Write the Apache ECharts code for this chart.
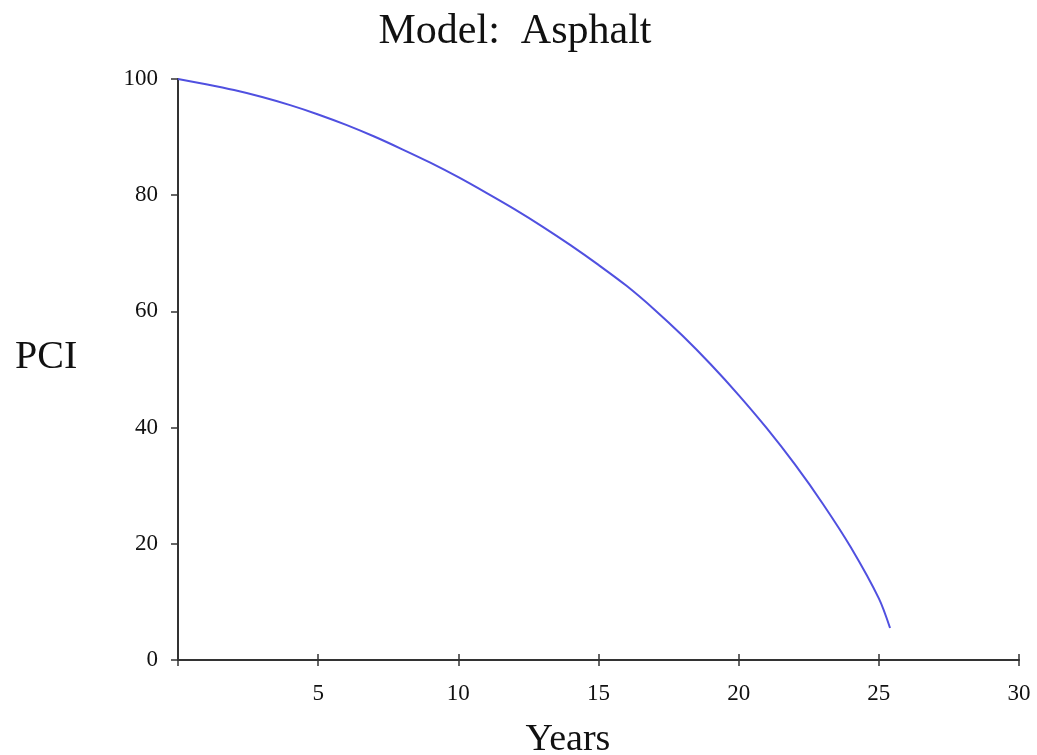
<!DOCTYPE html>
<html>
<head>
<meta charset="utf-8">
<script src="https://cdn.jsdelivr.net/npm/echarts@6/dist/echarts.min.js"></script>
<style>
  html, body { margin: 0; padding: 0; background: #fff; }
  #chart { width: 1037px; height: 755px; }
</style>
</head>
<body>
<div id="chart"></div>
<script>
// values
const years = [0, 1, 2, 3, 4, 5, 6, 7, 8, 9, 10, 11, 12, 13, 14, 15, 16, 17, 18, 19, 20, 21, 22, 23, 24, 25, 25.4];
const pci = [100, 99.1, 98.1, 96.9, 95.5, 93.9, 92.1, 90.1, 87.9, 85.6, 83.1, 80.4, 77.6, 74.6, 71.4, 68.0, 64.4, 60.3, 55.8, 50.9, 45.6, 39.9, 33.7, 26.9, 19.4, 10.6, 5.5];
const xTicks = [0, 5, 10, 15, 20, 25, 30];
const yTicks = [0, 20, 40, 60, 80, 100];

const serif = "'Liberation Serif', 'DejaVu Serif', serif";
let myChart = echarts.init(document.getElementById("chart"));
let option = {
  animation: false,
  backgroundColor: "#fff",
  title: [
    { text: "Model:  Asphalt", left: 510, top: 6, textAlign: "center",
      textStyle: { fontFamily: serif, fontSize: 42, fontWeight: "normal", color: "#111" } },
    { text: "PCI", left: 10, top: 332,
      textStyle: { fontFamily: serif, fontSize: 40, fontWeight: "normal", color: "#111" } },
    { text: "Years", left: 563, top: 716, textAlign: "center",
      textStyle: { fontFamily: serif, fontSize: 38, fontWeight: "normal", color: "#111" } }
  ],
  grid: { left: 178, right: 18, top: 79, bottom: 95 },
  xAxis: [
    {
      type: "value", min: 0, max: 30, interval: 5,
      axisLine: { lineStyle: { color: "#333", width: 2 } },
      axisTick: { length: 6, lineStyle: { color: "#333", width: 1.5 } },
      axisLabel: {
        fontFamily: serif, fontSize: 23, color: "#111", margin: 22,
        formatter: v => (v === 0 || xTicks.indexOf(v) < 0 ? "" : String(v))
      },
      splitLine: { show: false }
    },
    {
      type: "value", min: 0, max: 30, interval: 5, position: "bottom",
      axisLine: { show: false },
      axisTick: { inside: true, length: 6, lineStyle: { color: "#333", width: 1.5 } },
      axisLabel: { show: false },
      splitLine: { show: false }
    }
  ],
  yAxis: {
    type: "value", min: 0, max: 100, interval: 20,
    axisLine: { show: true, lineStyle: { color: "#333", width: 2 } },
    axisTick: { show: true, length: 7, lineStyle: { color: "#333", width: 1.5 } },
    axisLabel: {
      fontFamily: serif, fontSize: 23, color: "#111", margin: 20,
      formatter: v => (yTicks.indexOf(v) < 0 ? "" : String(v))
    },
    splitLine: { show: false }
  },
  series: [
    {
      type: "line",
      data: years.map((t, i) => [t, pci[i]]),
      smooth: 0.3,
      showSymbol: false,
      lineStyle: { color: "#5050e0", width: 2 }
    }
  ]
};
myChart.setOption(option);
</script>
</body>
</html>
